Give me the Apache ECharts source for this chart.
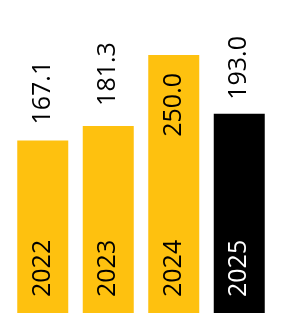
<!DOCTYPE html>
<html><head><meta charset="utf-8">
<script src="https://cdn.jsdelivr.net/npm/echarts@6/dist/echarts.min.js"></script>
<style>html,body{margin:0;padding:0;background:#fff}#c{width:281px;height:313px}</style>
</head><body><div id="c"></div>
<script>
const categories = ['2022', '2023', '2024', '2025'];
const values = [167.1, 181.3, 250.0, 193.0];
const barColors = ['#FEC10F', '#FEC10F', '#FEC10F', '#000000'];
const yearLabelColors = ['#000000', '#000000', '#000000', '#FFFFFF'];
const labelGaps = [16, 20, 18, 14];

const FONT = 'Open Sans';
const chart = echarts.init(document.getElementById('c'), null, {renderer: 'canvas'});
chart.setOption({
  animation: false,
  grid: {left: 10, right: 9, top: 55, bottom: 0},
  xAxis: {type: 'category', data: categories, show: false},
  yAxis: {type: 'value', min: 0, max: 250, show: false},
  series: [
    {
      type: 'bar',
      barWidth: 51,
      data: values.map((v, i) => {
        const d = {value: v, itemStyle: {color: barColors[i]}, label: {distance: labelGaps[i]}};
        if (v >= 250) {
          d.label = {position: 'insideTop', align: 'right', distance: labelGaps[i]};
        }
        return d;
      }),
      label: {
        show: true, position: 'top', rotate: 90, align: 'left', verticalAlign: 'middle',
        distance: 16, fontFamily: FONT, fontSize: 25, color: '#000',
        formatter: p => p.value.toFixed(1)
      }
    },
    {
      type: 'bar',
      barWidth: 51,
      barGap: '-100%',
      z: 5,
      data: values.map((v, i) => ({
        value: v, itemStyle: {color: 'rgba(0,0,0,0)'},
        label: {color: yearLabelColors[i]}
      })),
      label: {
        show: true, position: 'insideBottom', rotate: 90, align: 'left', verticalAlign: 'middle',
        distance: 16, fontFamily: FONT, fontSize: 25,
        formatter: '{b}'
      }
    }
  ]
});
</script></body></html>
